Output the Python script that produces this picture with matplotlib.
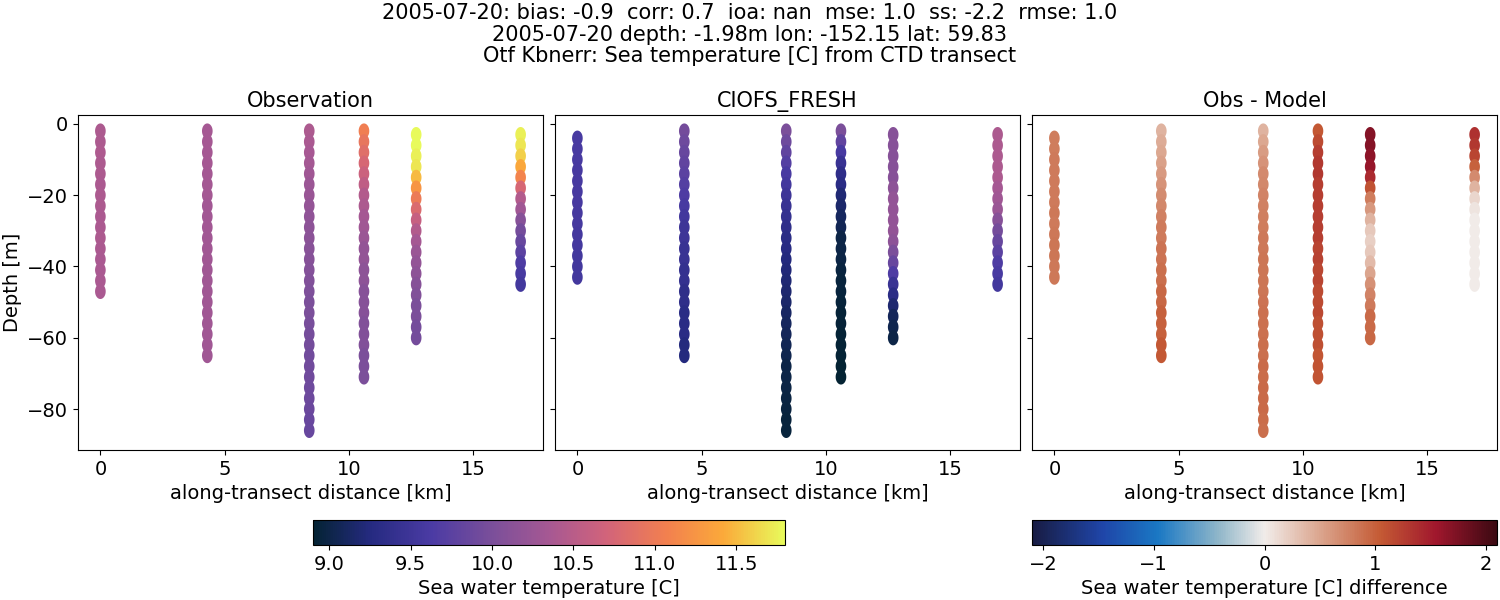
import numpy as np
import matplotlib
matplotlib.use("Agg")
import matplotlib.pyplot as plt
from matplotlib.colors import LinearSegmentedColormap
from matplotlib.path import Path

# --- data ---
distances = [0.0, 4.3, 8.4, 10.6, 12.7, 16.9]
obs_top = [-2, -2, -2, -2, -3, -3]
mod_top = [-4, -2, -2, -2, -3, -3]
step_m = 3.0
obs_vals = [
    [10.40,10.40,10.41,10.40,10.40,10.39,10.40,10.40,10.39,10.39,10.40,10.39,10.38,10.38,10.38,10.38],
    [10.35,10.35,10.34,10.34,10.33,10.33,10.33,10.32,10.32,10.32,10.31,10.31,10.31,10.30,10.30,10.30,10.30,10.30,10.30,10.30,10.30,10.30],
    [10.40,10.38,10.36,10.33,10.30,10.27,10.24,10.21,10.18,10.15,10.13,10.11,10.09,10.07,10.05,10.03,10.01,10.00,9.98,9.96,9.95,9.93,9.92,9.91,9.90,9.89,9.88,9.86,9.85],
    [11.05,10.95,10.85,10.75,10.65,10.55,10.45,10.40,10.35,10.30,10.25,10.20,10.20,10.15,10.15,10.10,10.10,10.10,10.05,10.05,10.05,10.00,10.00,10.00],
    [11.80,11.80,11.75,11.70,11.50,11.25,11.00,10.80,10.60,10.45,10.35,10.25,10.20,10.15,10.10,10.05,10.00,10.00,9.95,9.95],
    [11.75,11.70,11.60,11.40,11.10,10.75,10.45,10.30,10.10,9.95,9.85,9.75,9.65,9.60,9.55],
]
mod_vals = [
    [9.60,9.60,9.60,9.59,9.59,9.58,9.58,9.57,9.57,9.56,9.56,9.55,9.55,9.55],
    [9.95,9.90,9.85,9.80,9.75,9.70,9.65,9.60,9.55,9.50,9.50,9.45,9.45,9.40,9.40,9.35,9.35,9.30,9.30,9.30,9.25,9.25],
    [10.00,9.90,9.80,9.70,9.60,9.55,9.50,9.45,9.40,9.35,9.30,9.28,9.25,9.22,9.20,9.18,9.15,9.12,9.10,9.08,9.05,9.03,9.00,9.00,8.98,8.97,8.96,8.95,8.95],
    [10.00,9.80,9.60,9.45,9.35,9.30,9.20,9.15,9.10,9.05,9.00,9.00,8.98,8.96,8.95,8.95,8.94,8.93,8.93,8.92,8.92,8.92,8.91,8.91],
    [10.10,10.10,10.10,10.10,10.10,10.15,10.20,10.20,10.20,10.20,10.15,10.00,9.85,9.65,9.45,9.30,9.18,9.08,9.03,9.00],
    [10.40,10.40,10.40,10.40,10.40,10.35,10.30,10.25,10.10,9.95,9.85,9.75,9.65,9.60,9.55],
]
suptitle = ("2005-07-20: bias: -0.9  corr: 0.7  ioa: nan  mse: 1.0  ss: -2.2  rmse: 1.0\n"
            "2005-07-20 depth: -1.98m lon: -152.15 lat: 59.83\n"
            "Otf Kbnerr: Sea temperature [C] from CTD transect")

thermal = LinearSegmentedColormap.from_list("thermal", [
    (0.0, "#042333"), (0.12, "#252a80"), (0.25, "#4b3ba4"), (0.38, "#7b4f9a"),
    (0.5, "#a65893"), (0.62, "#d1637b"), (0.75, "#f2804f"), (0.87, "#fba93a"), (1.0, "#e8fa5b")])
balance = LinearSegmentedColormap.from_list("balance", [
    (0.0, "#181c43"), (0.15, "#1f45a8"), (0.27, "#1a78c4"), (0.4, "#8fb6c9"),
    (0.5, "#f1ecea"), (0.62, "#dba58e"), (0.75, "#c45a34"), (0.87, "#a0172d"), (1.0, "#3c0912")])

th = np.linspace(0, 2 * np.pi, 40)
ell = Path(np.column_stack([0.7 * np.cos(th), np.sin(th)]), closed=True)

plt.rcParams["font.size"] = 14
fig = plt.figure(figsize=(15, 6), dpi=100)
W, H = 1500, 600
def ax_at(x0, y0, x1, y1):
    return fig.add_axes([x0 / W, 1 - y1 / H, (x1 - x0) / W, (y1 - y0) / H])

axs = [ax_at(78, 115, 543, 450), ax_at(555, 115, 1020, 450), ax_at(1032, 115, 1497, 450)]
vmin, vmax = 8.9, 11.8
S = 120
kw = dict(s=S, linewidths=0, marker=ell)
for d, t, v in zip(distances, obs_top, obs_vals):
    z = t - step_m * np.arange(len(v))
    sc1 = axs[0].scatter([d] * len(v), z, c=v, cmap=thermal, vmin=vmin, vmax=vmax, **kw)
for d, t, v in zip(distances, mod_top, mod_vals):
    z = t - step_m * np.arange(len(v))
    axs[1].scatter([d] * len(v), z, c=v, cmap=thermal, vmin=vmin, vmax=vmax, **kw)
for d, t, vo, vm in zip(distances, mod_top, obs_vals, mod_vals):
    n = min(len(vo), len(vm))
    z = t - step_m * np.arange(n)
    diff = np.array(vo[:n]) - np.array(vm[:n])
    sc3 = axs[2].scatter([d] * n, z, c=diff, cmap=balance, vmin=-2.1, vmax=2.1, **kw)

titles = ["Observation", "CIOFS_FRESH", "Obs - Model"]
for i, ax in enumerate(axs):
    ax.set_xlim(-0.9, 17.8)
    ax.set_ylim(-91.5, 2.5)
    ax.set_yticks([0, -20, -40, -60, -80])
    ax.set_xticks([0, 5, 10, 15])
    ax.set_title(titles[i], fontsize=15)
    ax.set_xlabel("along-transect distance [km]")
    if i > 0:
        ax.set_yticklabels([])
axs[0].set_ylabel("Depth [m]")

cax1 = ax_at(313, 520, 785, 545)
cb1 = fig.colorbar(sc1, cax=cax1, orientation="horizontal")
cb1.set_ticks([9.0, 9.5, 10.0, 10.5, 11.0, 11.5])
cb1.set_label("Sea water temperature [C]")
cax2 = ax_at(1032, 520, 1497, 545)
cb2 = fig.colorbar(sc3, cax=cax2, orientation="horizontal")
cb2.set_ticks([-2, -1, 0, 1, 2])
cb2.set_label("Sea water temperature [C] difference")

fig.suptitle(suptitle, fontsize=15, y=0.995, linespacing=1.1)
fig.savefig("out.png", dpi=100)
